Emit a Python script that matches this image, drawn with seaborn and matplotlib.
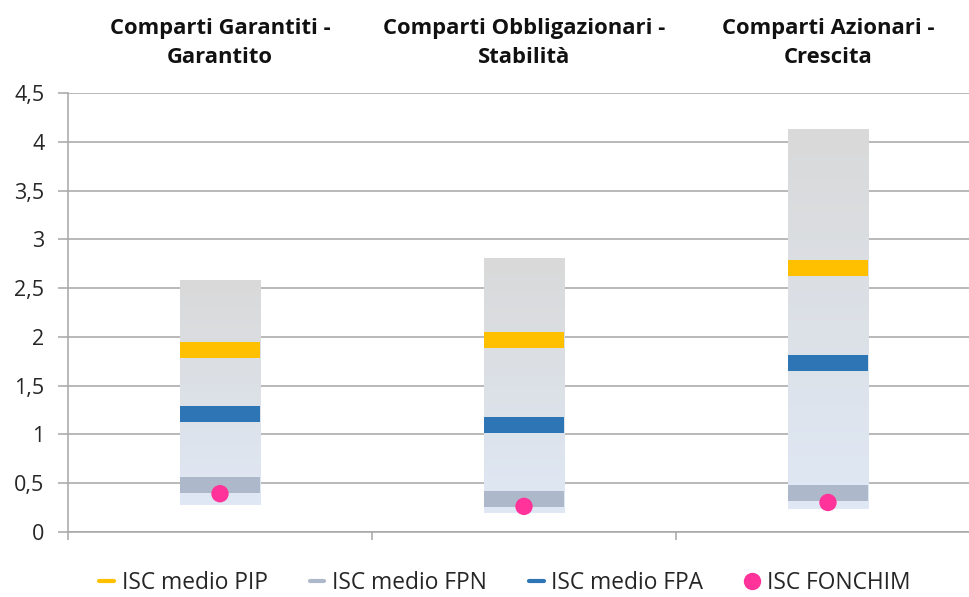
import numpy as np
import pandas as pd
import matplotlib
matplotlib.use("Agg")
import matplotlib.pyplot as plt
import matplotlib.transforms as mtransforms
from matplotlib.lines import Line2D
import seaborn as sns

# --- data -------------------------------------------------------------
categories = [
    "Comparti Garantiti -\nGarantito",
    "Comparti Obbligazionari -\nStabilità",
    "Comparti Azionari -\nCrescita",
]
isc_min = [0.27, 0.19, 0.23]
isc_max = [2.58, 2.81, 4.13]
isc_pip = [1.87, 1.97, 2.71]
isc_fpn = [0.48, 0.34, 0.40]
isc_fpa = [1.21, 1.10, 1.73]
isc_fonchim = [0.39, 0.26, 0.30]
y_ticks = [0, 0.5, 1, 1.5, 2, 2.5, 3, 3.5, 4, 4.5]
y_tick_labels = ["0", "0,5", "1", "1,5", "2", "2,5", "3", "3,5", "4", "4,5"]

df = pd.DataFrame({
    "categoria": categories,
    "min": isc_min,
    "max": isc_max,
    "pip": isc_pip,
    "fpn": isc_fpn,
    "fpa": isc_fpa,
    "fonchim": isc_fonchim,
})
df["range"] = df["max"] - df["min"]

# --- style ------------------------------------------------------------
sns.set_theme(style="white")
FONT = ["Open Sans", "DejaVu Sans"]
plt.rcParams["font.family"] = FONT

C_PIP = "#FFC000"
C_FPN = "#ADB9CA"
C_FPA = "#2E75B6"
C_FONCHIM = "#FF3399"
C_GRID = "#A6A6A6"
C_TEXT = "#262626"

W, H, DPI = 969, 597, 100
fig = plt.figure(figsize=(W / DPI, H / DPI), dpi=DPI)
ax = fig.add_axes([68 / W, (H - 531.7) / H, 912 / W, (531.7 - 93.3) / H])

bar_w = 0.266

# range bars (min -> max), filled afterwards with a vertical gradient
sns.barplot(data=df, x="categoria", y="range", bottom=df["min"].to_numpy(),
            width=bar_w, errorbar=None, color="#d9d9d9", facecolor="none",
            edgecolor="none", linewidth=0, ax=ax, zorder=2)

top_col = np.array([0.851, 0.851, 0.851])
bot_col = np.array([0.875, 0.910, 0.960])
t = np.linspace(0, 1, 256)[:, None]
grad = (top_col[None, :] * (1 - t) + bot_col[None, :] * t)[:, None, :]
for patch in list(ax.patches):
    x0, y0 = patch.get_x(), patch.get_y()
    w, h = patch.get_width(), patch.get_height()
    im = ax.imshow(grad, extent=[x0, x0 + w, y0, y0 + h], aspect="auto",
                   origin="upper", zorder=2, interpolation="bilinear")
    im.set_clip_path(patch)

# average-cost markers drawn as thick dashes across each bar
dash_len = bar_w * 912 / 3 * 0.72   # bar width in points
dash_thk = 16 * 0.72
x_pos = np.arange(len(categories))
for col, color in [("fpn", C_FPN), ("fpa", C_FPA), ("pip", C_PIP)]:
    sns.scatterplot(x=x_pos, y=df[col], marker="_", s=dash_len ** 2,
                    linewidth=dash_thk, color=color, ax=ax, zorder=3,
                    legend=False)
sns.scatterplot(x=x_pos, y=df["fonchim"], marker="o", s=12.5 ** 2,
                color=C_FONCHIM, edgecolor="none", linewidth=0, ax=ax,
                zorder=4, legend=False)

# --- axes -------------------------------------------------------------
ax.set_xlim(-0.5, 2.5)
ax.set_ylim(0, 4.5)
ax.set_xlabel("")
ax.set_ylabel("")
ax.set_yticks(y_ticks)
ax.set_yticklabels(y_tick_labels)
ax.set_xticks([-0.5, 0.5, 1.5, 2.5])
ax.set_xticklabels([])
ax.set_axisbelow(True)
ax.yaxis.grid(True, color=C_GRID, linewidth=1.1)
ax.xaxis.grid(False)
for s in ["top", "right"]:
    ax.spines[s].set_visible(False)
for s in ["left", "bottom"]:
    ax.spines[s].set_color(C_GRID)
    ax.spines[s].set_linewidth(1.1)
ax.tick_params(axis="y", length=7, width=1.1, color=C_GRID, pad=10,
               labelsize=15.5, labelcolor=C_TEXT, left=True)
ax.tick_params(axis="x", length=6, width=1.1, color=C_GRID, bottom=True)

# category headers above the plot
trans = mtransforms.blended_transform_factory(ax.transData, fig.transFigure)
for i, name in enumerate(categories):
    ax.text(i, 1 - 43 / H, name, transform=trans, ha="center", va="center",
            fontsize=15.8, fontweight="bold", color="#111111",
            linespacing=1.55, clip_on=False)

# legend
handles = [
    Line2D([], [], color=C_PIP, lw=3),
    Line2D([], [], color=C_FPN, lw=3),
    Line2D([], [], color=C_FPA, lw=3),
    Line2D([], [], color=C_FONCHIM, lw=0, marker="o", markersize=11.5),
]
labels = ["ISC medio PIP", "ISC medio FPN", "ISC medio FPA", "ISC FONCHIM"]
fig.legend(handles, labels, loc="center", bbox_to_anchor=(505 / W, 1 - 583 / H),
           ncol=4, frameon=False, fontsize=16.4, handlelength=0.65,
           handletextpad=0.32, columnspacing=1.85, labelcolor=C_TEXT,
           borderpad=0.2)

fig.savefig("out.png", dpi=DPI)
